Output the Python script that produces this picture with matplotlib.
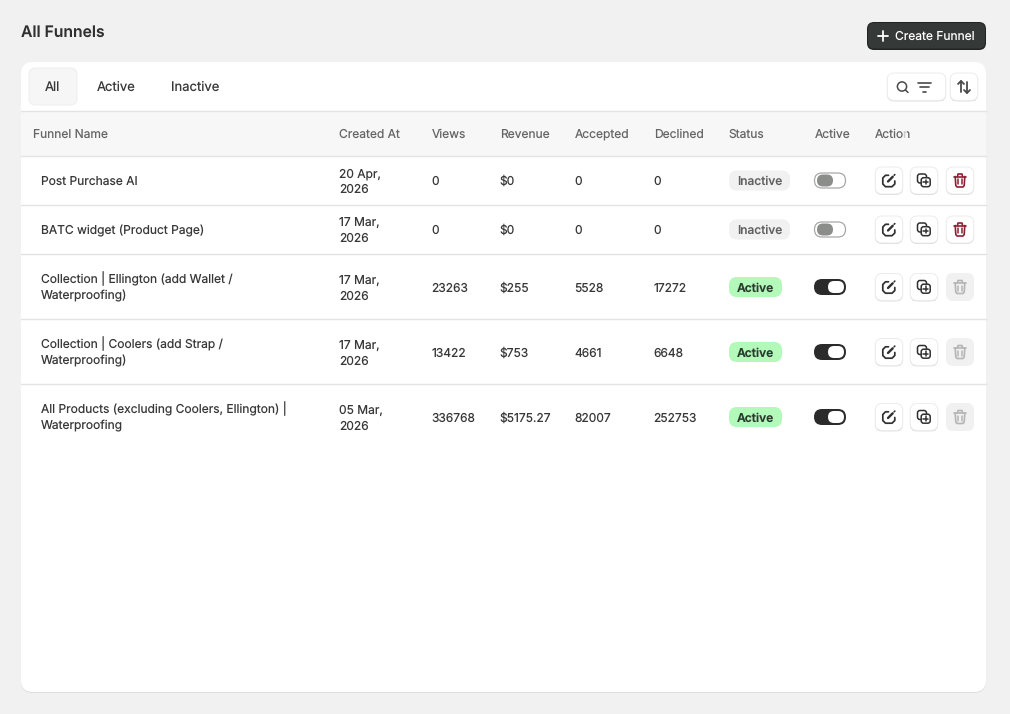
import matplotlib
matplotlib.use("Agg")
import matplotlib.pyplot as plt
from matplotlib.patches import FancyBboxPatch, Rectangle, Circle

plt.rcParams['font.family'] = ['Inter', 'DejaVu Sans']
plt.rcParams['text.hinting'] = 'no_hinting'
plt.rcParams['text.hinting_factor'] = 1

# table content
headers = ["Funnel Name", "Created At", "Views", "Revenue", "Accepted", "Declined", "Status", "Active", "Action"]
names = [["Post Purchase AI"],
         ["BATC widget (Product Page)"],
         ["Collection | Ellington (add Wallet /", "Waterproofing)"],
         ["Collection | Coolers (add Strap /", "Waterproofing)"],
         ["All Products (excluding Coolers, Ellington) |", "Waterproofing"]]
created = [["20 Apr,", "2026"], ["17 Mar,", "2026"], ["17 Mar,", "2026"], ["17 Mar,", "2026"], ["05 Mar,", "2026"]]
views = ["0", "0", "23263", "13422", "336768"]
revenue = ["$0", "$0", "$255", "$753", "$5175.27"]
accepted = ["0", "0", "5528", "4661", "82007"]
declined = ["0", "0", "17272", "6648", "252753"]
status = ["Inactive", "Inactive", "Active", "Active", "Active"]
tabs = ["All", "Active", "Inactive"]

# layout, pixels
W, H = 1010, 714
col_x = [33, 339.4, 431.6, 499.6, 574.6, 653.6, 728.6, 814.4, 875]
tab_x = [52.5, 116, 195]
row_y = [180.5, 229.5, 287, 352, 417]
lines_y = [156, 205, 254, 319, 384]

fig = plt.figure(figsize=(W / 100, H / 100), dpi=100, facecolor="#f1f1f1")
ax = fig.add_axes([0, 0, 1, 1])
ax.set_xlim(0, W)
ax.set_ylim(H, 0)
ax.axis("off")

INK = "#383838"
GREY = "#666666"
EDGE = "#e3e3e3"


def box(x0, y0, x1, y1, r, fc, ec="none", lw=1, z=2):
    p = FancyBboxPatch((x0 + r, y0 + r), x1 - x0 - 2 * r, y1 - y0 - 2 * r,
                       boxstyle="round,pad=%f,rounding_size=%f" % (r, r),
                       fc=fc, ec=ec, lw=lw, zorder=z)
    ax.add_patch(p)


def line(xs, ys, c, lw=1.1, z=5):
    ax.plot(xs, ys, color=c, lw=lw, solid_capstyle="round", solid_joinstyle="round", zorder=z)


def label(x, y, s, size=8.65, c=INK, ha="left", weight="normal"):
    # y is the middle of the text, baseline so every row sits the same way
    ax.text(x, y + 4.6, s, fontsize=size, color=c, ha=ha, va="baseline", weight=weight, zorder=6)


def shadow_button(x0, y0, x1, y1, r=7):
    box(x0, y0 + 1, x1, y1 + 0.8, r, "#cfcfcf")
    box(x0 + 0.2, y0, x1 - 0.2, y1, r, "#ffffff", ec="#ececec", lw=0.7, z=3)


def edit_icon(cx, cy, c):
    line([cx - 0.5, cx - 3.5, cx - 6.2, cx - 6.2, cx - 3.5, cx + 3, cx + 5.8, cx + 5.8],
         [cy - 5.2, cy - 5.2, cy - 2.5, cy + 3.5, cy + 6.2, cy + 6.2, cy + 3.5, cy + 0.5], c, 1.25)
    line([cx - 1, cx + 3.7], [cy + 1, cy - 3.7], c, 1.7)
    line([cx + 5.2, cx + 5.8], [cy - 5.3, cy - 5.9], c, 1.2)


def copy_icon(cx, cy, c):
    box(cx - 6.5, cy - 6.5, cx + 2.5, cy + 2.5, 2.5, "#ffffff", ec=c, lw=1.1, z=4)
    box(cx - 2.8, cy - 2.8, cx + 6.2, cy + 6.2, 2.5, "#ffffff", ec=c, lw=1.1, z=5)
    line([cx - 0.6, cx + 3.9], [cy + 1.7, cy + 1.7], c, 1.1, z=6)
    line([cx + 1.7, cx + 1.7], [cy - 0.6, cy + 3.9], c, 1.1, z=6)


def trash_icon(cx, cy, c):
    line([cx - 6, cx + 6], [cy - 4, cy - 4], c, 1.2)
    line([cx - 2.5, cx - 2, cx + 2, cx + 2.5], [cy - 4, cy - 6.5, cy - 6.5, cy - 4], c, 1.2)
    line([cx - 4.8, cx - 4.2, cx - 3, cx + 3, cx + 4.2, cx + 4.8],
         [cy - 4, cy + 5, cy + 6.5, cy + 6.5, cy + 5, cy - 4], c, 1.2)
    line([cx - 1.7, cx - 1.7], [cy - 1.5, cy + 3.5], c, 1.1)
    line([cx + 1.7, cx + 1.7], [cy - 1.5, cy + 3.5], c, 1.1)


# page heading and create button
label(21, 32.3, "All Funnels", size=11.3, weight="semibold", c="#303030")
box(867, 22, 986, 50, 7, "#202322")
box(868, 23, 985, 48.5, 6, "#353937", z=3)
line([878, 888], [36, 36], "#ffffff", 1.3)
line([883, 883], [31, 41], "#ffffff", 1.3)
label(895, 35.6, "Create Funnel", size=8.65, c="#ffffff")

# card
box(21, 63, 986, 693, 12, "#dddddd", z=1)
box(21, 62, 986, 692, 12, "#ffffff", z=1.5)

# tabs
box(29, 68, 77, 105, 7, "#f6f6f6", ec="#efefef", lw=0.8)
for x, s in zip(tab_x, tabs):
    label(x, 86.2, s, ha="center", size=9.4)

# search + filter and sort buttons
shadow_button(887, 73, 946, 100.5)
shadow_button(950, 73, 978, 100.5)
ax.add_patch(Circle((902, 86.5), 4.6, fc="none", ec="#4a4a4a", lw=1.1, zorder=5))
line([905.5, 908], [90, 92.5], "#4a4a4a", 1.1)
line([917.5, 931], [82.5, 82.5], "#4a4a4a", 1.2)
line([920, 928.5], [87, 87], "#4a4a4a", 1.2)
line([922.5, 926], [91.5, 91.5], "#4a4a4a", 1.2)
line([961, 961], [81, 92], "#4a4a4a", 1.3)
line([958, 961, 964], [84, 81, 84], "#4a4a4a", 1.3)
line([967, 967], [82, 93], "#4a4a4a", 1.3)
line([964, 967, 970], [90, 93, 90], "#4a4a4a", 1.3)

# header band
ax.add_patch(Rectangle((21, 111), 965, 45, fc="#f7f7f7", ec="none", zorder=2))
ax.plot([21, 986], [111, 111], color=EDGE, lw=1, zorder=3)
for x, s in zip(col_x, headers):
    label(x, 133, s, c=GREY)
# the last letter of Action is washed out in the reference
ax.add_patch(Rectangle((904, 127), 3, 12, fc="#f7f7f7", ec="none", alpha=0.7, zorder=7))
for y in lines_y:
    ax.plot([21, 986], [y, y], color=EDGE, lw=1, zorder=3)

# rows
for i, y in enumerate(row_y):
    if len(names[i]) == 1:
        label(41, y, names[i][0])
    else:
        label(41, y - 8, names[i][0])
        label(41, y + 8, names[i][1])
    label(col_x[1], y - 8, created[i][0])
    label(col_x[1], y + 8, created[i][1])
    label(col_x[2], y, views[i])
    label(col_x[3], y, revenue[i])
    label(col_x[4], y, accepted[i])
    label(col_x[5], y, declined[i])

    on = status[i] == "Active"
    if on:
        box(729, y - 10, 782, y + 10, 8, "#b2f9ba")
        label(755.5, y, status[i], ha="center", c="#2a3b2e", weight="semibold")
        box(814, y - 8, 846, y + 8, 8, "#2b2b2b")
        box(828, y - 6, 844, y + 6, 6, "#ffffff", z=3)
    else:
        box(729, y - 10, 790, y + 10, 8, "#f1f1f1")
        label(759.5, y, status[i], ha="center", c="#616161", weight="medium")
        box(814.5, y - 7.5, 845.5, y + 7.5, 7.5, "#ffffff", ec="#a8a8a8", lw=0.9)
        box(817, y - 6, 833, y + 6, 6, "#8a8d8a", z=3)

    shadow_button(875, y - 13.5, 903, y + 13.5)
    edit_icon(889, y, "#303030")
    shadow_button(910, y - 13.5, 938, y + 13.5)
    copy_icon(924, y, "#303030")
    if on:
        box(946, y - 14, 974, y + 14, 7, "#f1f1f1")
        trash_icon(960, y, "#b5b5b5")
    else:
        shadow_button(946, y - 13.5, 974, y + 13.5)
        trash_icon(960, y, "#8e1f33")

fig.savefig("out.png", dpi=100, facecolor=fig.get_facecolor())
